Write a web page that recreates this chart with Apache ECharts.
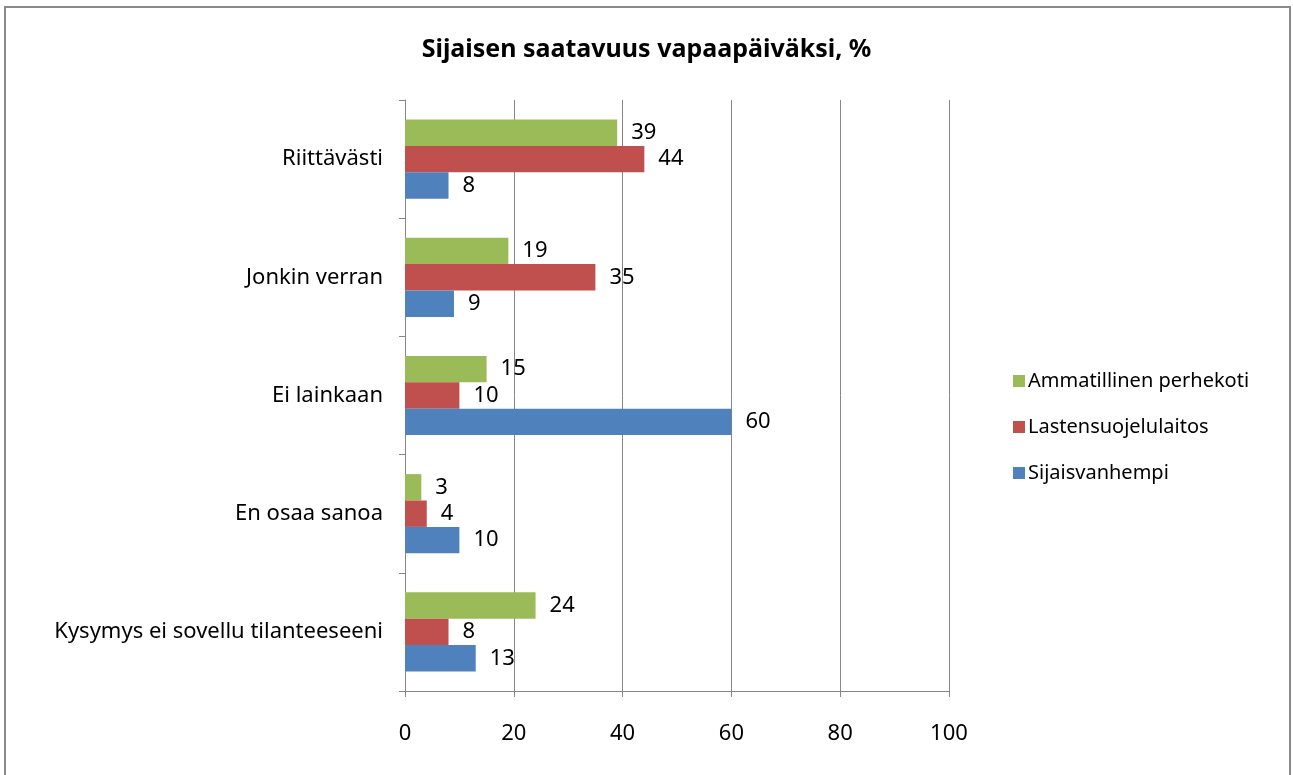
<!DOCTYPE html>
<html>
<head>
<meta charset="utf-8">
<script src="https://cdn.jsdelivr.net/npm/echarts@6/dist/echarts.min.js"></script>
<style>
  html, body { margin: 0; padding: 0; background: #fff; }
  #chart { width: 1293px; height: 775px; }
</style>
</head>
<body>
<div id="chart"></div>
<script>
// categories top to bottom
const categories = [
  'Riittävästi',
  'Jonkin verran',
  'Ei lainkaan',
  'En osaa sanoa',
  'Kysymys ei sovellu tilanteeseeni'
];
const ammatillinen = [39, 19, 15, 3, 24];
const lastensuojelu = [44, 35, 10, 4, 8];
const sijaisvanhempi = [8, 9, 60, 10, 13];
const xTicks = [0, 20, 40, 60, 80, 100];

const font = '"Noto Sans", sans-serif';
const chart = echarts.init(document.getElementById('chart'));

const labelStyle = {
  show: true,
  position: 'right',
  distance: 14,
  color: '#000',
  fontSize: 22,
  fontFamily: font
};

chart.setOption({
  animation: false,
  title: {
    text: 'Sijaisen saatavuus vapaapäiväksi, %',
    left: 'center',
    top: 32,
    textStyle: { fontSize: 25, fontWeight: 'bold', color: '#000', fontFamily: font }
  },
  graphic: [{
    type: 'rect',
    shape: { x: 5, y: 7, width: 1285, height: 780 },
    style: { fill: 'none', stroke: '#8a8a8a', lineWidth: 2 },
    silent: true
  }],
  legend: {
    orient: 'vertical',
    left: 1008,
    top: 366,
    itemWidth: 12,
    itemHeight: 12,
    itemGap: 26,
    icon: 'rect',
    data: ['Ammatillinen perhekoti', 'Lastensuojelulaitos', 'Sijaisvanhempi'],
    textStyle: { fontSize: 20, color: '#000', fontFamily: font, padding: [0, 0, 0, -2] }
  },
  grid: { left: 405, right: 344, top: 100, bottom: 84, containLabel: false },
  xAxis: {
    type: 'value',
    min: xTicks[0],
    max: xTicks[xTicks.length - 1],
    interval: 20,
    axisLine: { show: true, lineStyle: { color: '#868686' } },
    axisTick: { show: true, length: 6, lineStyle: { color: '#868686' } },
    splitLine: { show: true, lineStyle: { color: '#868686' } },
    axisLabel: { color: '#000', fontSize: 22, fontFamily: font, margin: 32 }
  },
  yAxis: {
    type: 'category',
    inverse: true,
    data: categories,
    axisLine: { show: true, lineStyle: { color: '#868686' } },
    axisTick: { show: true, length: 6, lineStyle: { color: '#868686' } },
    axisLabel: { color: '#000', fontSize: 22, fontFamily: font, margin: 22 }
  },
  series: [
    {
      name: 'Ammatillinen perhekoti',
      type: 'bar',
      data: ammatillinen,
      barGap: '0%',
      barCategoryGap: '33%',
      itemStyle: { color: '#9bbb59' },
      label: labelStyle
    },
    {
      name: 'Lastensuojelulaitos',
      type: 'bar',
      data: lastensuojelu,
      itemStyle: { color: '#c0504d' },
      label: labelStyle
    },
    {
      name: 'Sijaisvanhempi',
      type: 'bar',
      data: sijaisvanhempi,
      itemStyle: { color: '#4f81bd' },
      label: labelStyle
    }
  ]
});
</script>
</body>
</html>
